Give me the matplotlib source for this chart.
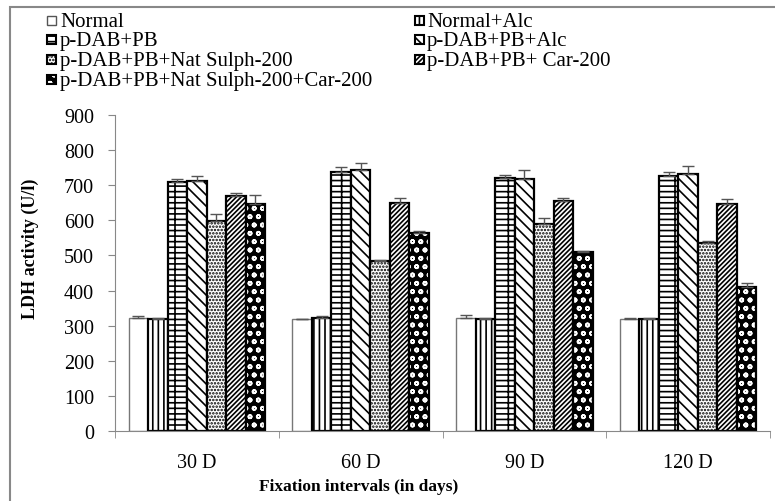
import numpy as np
import matplotlib
matplotlib.use('Agg')
from matplotlib import pyplot as plt
from matplotlib.patches import Rectangle

plt.rcParams['font.family'] = ['Liberation Serif', 'DejaVu Serif']
plt.rcParams['hatch.linewidth'] = 1.2

intervals = ['30 D', '60 D', '90 D', '120 D']
groups = ['Normal', 'Normal+Alc', 'p-DAB+PB', 'p-DAB+PB+Alc',
          'p-DAB+PB+Nat Sulph-200', 'p-DAB+PB+ Car-200',
          'p-DAB+PB+Nat Sulph-200+Car-200']

normal = [321, 319, 321, 319]
normal_alc = [319, 321, 318, 319]
dab_pb = [710, 739, 721, 727]
dab_pb_alc = [713, 744, 718, 731]
nat_sulph = [599, 485, 590, 536]
car = [669, 650, 656, 647]
nat_car = [647, 563, 509, 409]

err_normal = [7, 1, 9, 3]
err_normal_alc = [2, 6, 3, 2]
err_dab_pb = [8, 12, 9, 10]
err_dab_pb_alc = [14, 20, 26, 23]
err_nat_sulph = [19, 3, 16, 6]
err_car = [8, 13, 9, 14]
err_nat_car = [25, 8, 5, 12]

values = [normal, normal_alc, dab_pb, dab_pb_alc, nat_sulph, car, nat_car]
errors = [err_normal, err_normal_alc, err_dab_pb, err_dab_pb_alc,
          err_nat_sulph, err_car, err_nat_car]

# (face, hatch colour, hatch) per series; last one is white dots on black
styles = [('white', '#777777', None),
          ('white', 'black', '|||'),
          ('white', 'black', '---|'),
          ('white', 'black', '\\\\\\'),
          ('white', 'black', '.....'),
          ('white', 'black', '///////'),
          ('black', 'white', 'oo')]

W, H = 775, 502
fig = plt.figure(figsize=(W / 100, H / 100), dpi=100)
ax = fig.add_axes([115 / W, 1 - 432 / H, 655 / W, 316 / H])

x = np.arange(len(intervals))
gw = 0.835
w = gw / len(groups)
for i, (vals, errs) in enumerate(zip(values, errors)):
    pos = x - gw / 2 + w * (i + 0.5)
    face, hcol, hatch = styles[i]
    if hatch is None:
        ax.bar(pos, vals, w, color=face, edgecolor=hcol, linewidth=1.0)
    else:
        ax.bar(pos, vals, w, color=face, edgecolor=hcol, linewidth=0, hatch=hatch)
        ax.bar(pos, vals, w, fill=False, edgecolor='black', linewidth=1.6)
    ax.errorbar(pos, vals, yerr=[np.zeros(len(errs)), errs], fmt='none',
                ecolor='#555555', elinewidth=1.0, capsize=4, capthick=1.0)

ax.set_xlim(-0.5, 3.5)
ax.set_ylim(0, 900)
ax.set_yticks(range(0, 901, 100))
ax.set_xticks(x)
ax.set_xticklabels(intervals)
ax.set_xticks(np.arange(-0.5, 4.0, 1.0), minor=True)
ax.tick_params(axis='x', which='major', length=0, labelsize=14.5, pad=16)
ax.tick_params(axis='x', which='minor', length=5, color='#888888', direction='out')
ax.tick_params(axis='y', length=5, color='#888888', labelsize=14.5, pad=10, direction='out')
for s in ['top', 'right']:
    ax.spines[s].set_visible(False)
for s in ['left', 'bottom']:
    ax.spines[s].set_color('#888888')
ax.set_ylabel('LDH activity (U/l)', fontsize=13, fontweight='bold', va='center')
ax.yaxis.set_label_coords(30 / W, 1 - 249 / H, transform=fig.transFigure)
ax.set_xlabel('Fixation intervals (in days)', fontsize=12.5, fontweight='bold', va='center')
ax.xaxis.set_label_coords(359 / W, 1 - 487 / H, transform=fig.transFigure)

# legend, two columns filled row by row
leg_x = [(47, 60), (415, 427)]
leg_base = [27, 46, 66, 86]
for i, name in enumerate(groups):
    (mx, tx), by = leg_x[i % 2], leg_base[i // 2]
    face, hcol, hatch = styles[i]
    box = dict(transform=fig.transFigure)
    if hatch is None:
        fig.add_artist(Rectangle((mx / W, 1 - (by - 1) / H), 9 / W, 9 / H, facecolor=face,
                                 edgecolor='#555555', linewidth=1.0, **box))
    else:
        fig.add_artist(Rectangle((mx / W, 1 - (by - 1) / H), 9 / W, 9 / H, facecolor=face,
                                 edgecolor=hcol, linewidth=0, hatch=hatch, **box))
        fig.add_artist(Rectangle((mx / W, 1 - (by - 1) / H), 9 / W, 9 / H, fill=False,
                                 edgecolor='black', linewidth=1.5, **box))
    fig.text(tx / W, 1 - by / H, name, fontsize=15, va='baseline', ha='left')

fig.add_artist(Rectangle((10 / W, -0.1), 1.2, 1.1 - 8 / H, transform=fig.transFigure,
                         fill=False, edgecolor='#888888', linewidth=1.5))

fig.savefig('out.png', dpi=100)
